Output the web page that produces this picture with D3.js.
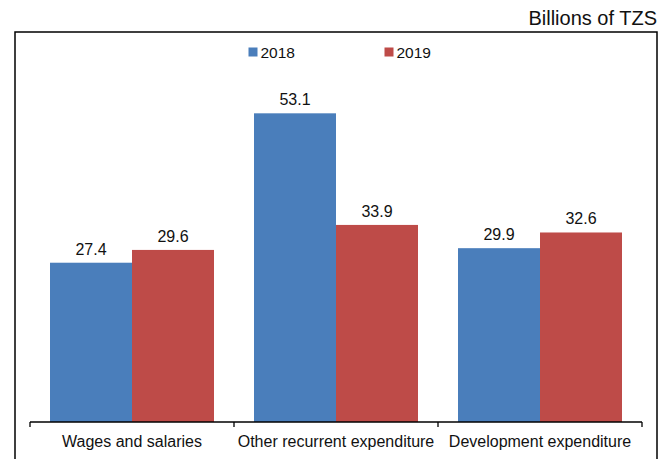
<!DOCTYPE html>
<html>
<head>
<meta charset="utf-8">
<script src="https://cdn.jsdelivr.net/npm/d3@7/dist/d3.min.js"></script>
<style>
  html, body { margin: 0; padding: 0; background: #fff; }
  svg { display: block; font-family: "Liberation Sans", Arial, Helvetica, sans-serif; }
</style>
</head>
<body>
<svg id="chart" width="670" height="459"></svg>
<script>
// Expenditure by category, billions of TZS
const categories = ["Wages and salaries", "Other recurrent expenditure", "Development expenditure"];
const seriesNames = ["2018", "2019"];
const values2018 = [27.4, 53.1, 29.9];
const values2019 = [29.6, 33.9, 32.6];
const seriesColors = ["#4a7ebb", "#be4b48"];

const svg = d3.select("#chart");
const W = 670, H = 459;

const frame = { left: 15, top: 32, right: 657 };
const plot = { left: 30, right: 642, top: 73.2, bottom: 422 };

// Outer frame (open at the bottom edge of the page)
svg.append("path")
  .attr("d", `M${frame.left},${H + 2} V${frame.top} H${frame.right} V${H + 2}`)
  .attr("fill", "none")
  .attr("stroke", "#000")
  .attr("stroke-width", 1.5);

// Units caption
svg.append("text")
  .attr("x", 657)
  .attr("y", 25)
  .attr("text-anchor", "end")
  .attr("font-size", 20)
  .attr("fill", "#111")
  .text("Billions of TZS");

const x0 = d3.scaleBand()
  .domain(categories)
  .range([plot.left, plot.right])
  .paddingInner(0)
  .paddingOuter(0);

const x1 = d3.scaleBand()
  .domain(seriesNames)
  .range([0, x0.bandwidth()])
  .paddingOuter(0.244)
  .paddingInner(0);

const y = d3.scaleLinear()
  .domain([0, 60])
  .range([plot.bottom, plot.top]);

const rows = categories.map((c, i) => ({
  category: c,
  values: [
    { series: seriesNames[0], value: values2018[i] },
    { series: seriesNames[1], value: values2019[i] }
  ]
}));

const color = d3.scaleOrdinal().domain(seriesNames).range(seriesColors);

const groups = svg.append("g")
  .selectAll("g")
  .data(rows)
  .join("g")
  .attr("transform", d => `translate(${x0(d.category)},0)`);

groups.selectAll("rect")
  .data(d => d.values)
  .join("rect")
  .attr("x", d => x1(d.series))
  .attr("y", d => y(d.value))
  .attr("width", x1.bandwidth())
  .attr("height", d => y(0) - y(d.value))
  .attr("fill", d => color(d.series));

groups.selectAll("text.value")
  .data(d => d.values)
  .join("text")
  .attr("class", "value")
  .attr("x", d => x1(d.series) + x1.bandwidth() / 2)
  .attr("y", d => y(d.value) - 8)
  .attr("text-anchor", "middle")
  .attr("font-size", 16)
  .attr("fill", "#111")
  .text(d => d.value.toFixed(1));

// Category axis: ticks at band boundaries, labels centred in bands
const axisG = svg.append("g");
axisG.append("line")
  .attr("x1", plot.left).attr("x2", plot.right)
  .attr("y1", plot.bottom).attr("y2", plot.bottom)
  .attr("stroke", "#000").attr("stroke-width", 1.3);

const boundaries = categories.map(c => x0(c)).concat([x0(categories[categories.length - 1]) + x0.bandwidth()]);
axisG.selectAll("line.tick")
  .data(boundaries)
  .join("line")
  .attr("class", "tick")
  .attr("x1", d => d).attr("x2", d => d)
  .attr("y1", plot.bottom).attr("y2", plot.bottom + 5)
  .attr("stroke", "#000").attr("stroke-width", 1.3);

axisG.selectAll("text")
  .data(categories)
  .join("text")
  .attr("x", d => x0(d) + x0.bandwidth() / 2)
  .attr("y", 446.5)
  .attr("text-anchor", "middle")
  .attr("font-size", 16)
  .attr("fill", "#111")
  .text(d => d);

// Legend
const legendX = [248.5, 384.5];
const legend = svg.append("g")
  .selectAll("g")
  .data(seriesNames)
  .join("g")
  .attr("transform", (d, i) => `translate(${legendX[i]},47.5)`);
legend.append("rect")
  .attr("width", 9).attr("height", 9)
  .attr("fill", d => color(d));
legend.append("text")
  .attr("x", 12).attr("y", 10)
  .attr("font-size", 15.5)
  .attr("fill", "#111")
  .text(d => d);
</script>
</body>
</html>
